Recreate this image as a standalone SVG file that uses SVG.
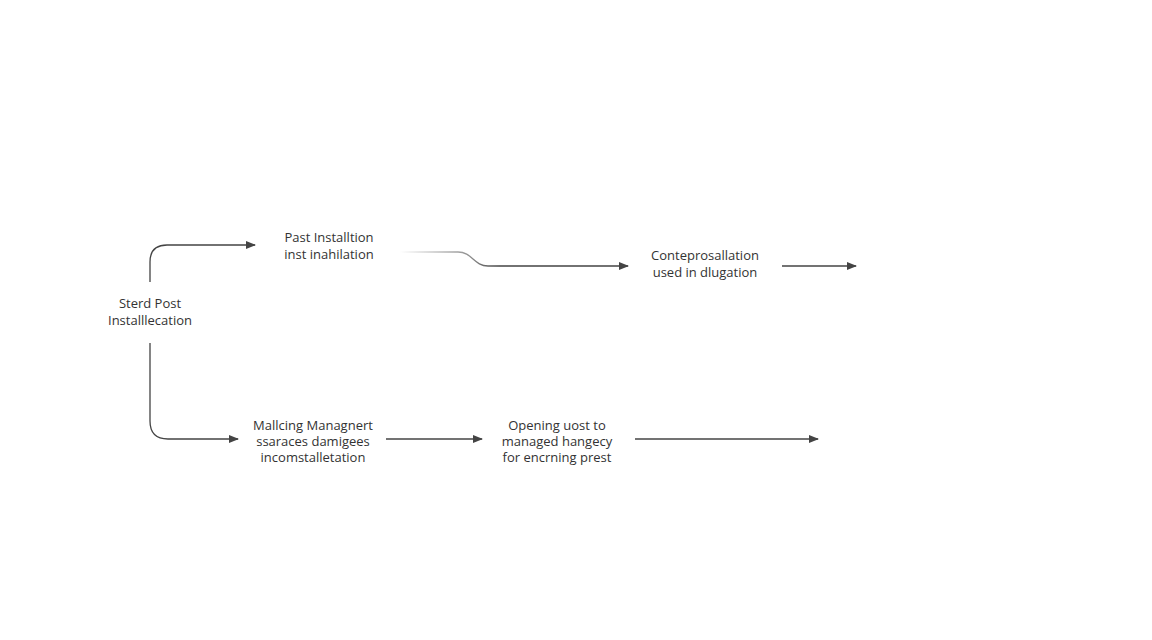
<svg xmlns="http://www.w3.org/2000/svg" width="1152" height="640" viewBox="0 0 1152 640">
<style>
.t{font-family:"Open Sans","Liberation Sans",sans-serif;font-size:13px;fill:#333;text-anchor:middle}
.c{fill:none;stroke:#444;stroke-width:1.3}
</style>
<defs>
<marker id="ah" viewBox="0 0 10 10" refX="9" refY="5" markerWidth="10" markerHeight="10" markerUnits="userSpaceOnUse" orient="auto">
<path d="M0,1 L10,5 L0,9 Z" fill="#444"/>
</marker>
<linearGradient id="fade" gradientUnits="userSpaceOnUse" x1="400" y1="0" x2="500" y2="0">
<stop offset="0" stop-color="#444" stop-opacity="0"/>
<stop offset="0.7" stop-color="#444" stop-opacity="0.6"/>
<stop offset="1" stop-color="#444"/>
</linearGradient>
</defs>
<rect width="1152" height="640" fill="#fff"/>
<g id="connectors">
<path class="c" d="M150,282 V262 Q150,245 167,245 H255" marker-end="url(#ah)"/>
<path class="c" d="M400,252 H458 C472,252 474,266 488,266 H628" style="stroke:url(#fade)" marker-end="url(#ah)"/>
<path class="c" d="M782,266 H856" marker-end="url(#ah)"/>
<path class="c" d="M150,343 V421 Q150,439 168,439 H238" marker-end="url(#ah)"/>
<path class="c" d="M386,439 H482" marker-end="url(#ah)"/>
<path class="c" d="M635,439 H818" marker-end="url(#ah)"/>
</g>
<g id="start"><text class="t" x="150" y="308">Sterd Post</text><text class="t" x="150" y="325">Installlecation</text></g>
<g id="nodeA"><text class="t" x="329" y="242">Past Installtion</text><text class="t" x="329" y="259">inst inahilation</text></g>
<g id="nodeB"><text class="t" x="705" y="260">Conteprosallation</text><text class="t" x="705" y="277">used in dlugation</text></g>
<g id="nodeC"><text class="t" x="313" y="430">Mallcing Managnert</text><text class="t" x="313" y="446">ssaraces damigees</text><text class="t" x="313" y="462">incomstalletation</text></g>
<g id="nodeD"><text class="t" x="557" y="430">Opening uost to</text><text class="t" x="557" y="446">managed hangecy</text><text class="t" x="557" y="462">for encrning prest</text></g>
</svg>
